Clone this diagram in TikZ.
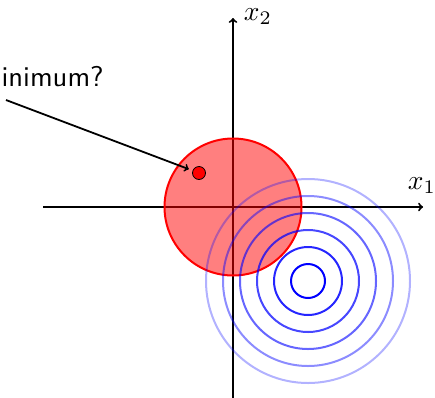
\documentclass[tikz,border=0pt]{standalone}
\begin{document}
\begin{tikzpicture}[x=1pt,y=-1pt,
  axis/.style={line width=2pt,->},
  lbl/.style={inner sep=0pt,scale=2.75},
  ring/.style={draw=blue,line width=2pt}]
\useasboundingbox (0,0) rectangle (435,397);
% axes
\coordinate (xl) at (43,207);
\coordinate (xr) at (423,207);
\coordinate (yb) at (233,400);
\coordinate (yt) at (233,18);
\draw[axis] (xl) -- (xr);
\draw[axis] (yb) -- (yt);
\node[lbl] (x1) at (422,186) {$x_1$};
\node[lbl] (x2) at (258,17) {$x_2$};
% feasible region
\node[circle,draw=red,fill=red,fill opacity=0.5,line width=2pt,minimum size=137pt,inner sep=0pt] (disk) at (233,207) {};
% level sets
\coordinate (c) at (308,281);
\foreach \r/\o in {17/1,34/0.85,51/0.72,68/0.6,85/0.45,102/0.3}
  \draw[ring,draw opacity=\o] (c) circle[radius=\r];
% point
\node[circle,draw=black,fill=red,line width=0.8pt,minimum size=13pt,inner sep=0pt] (dot) at (199,173) {};
% label and arrow
\node[lbl,scale=1.04,anchor=base west,font=\sffamily] (txt) at (1,86.5) {inimum?};
\coordinate (s) at (6,100);
\draw[line width=1.8pt,->,shorten >=4pt] (s) -- (dot);
\end{tikzpicture}
\end{document}
